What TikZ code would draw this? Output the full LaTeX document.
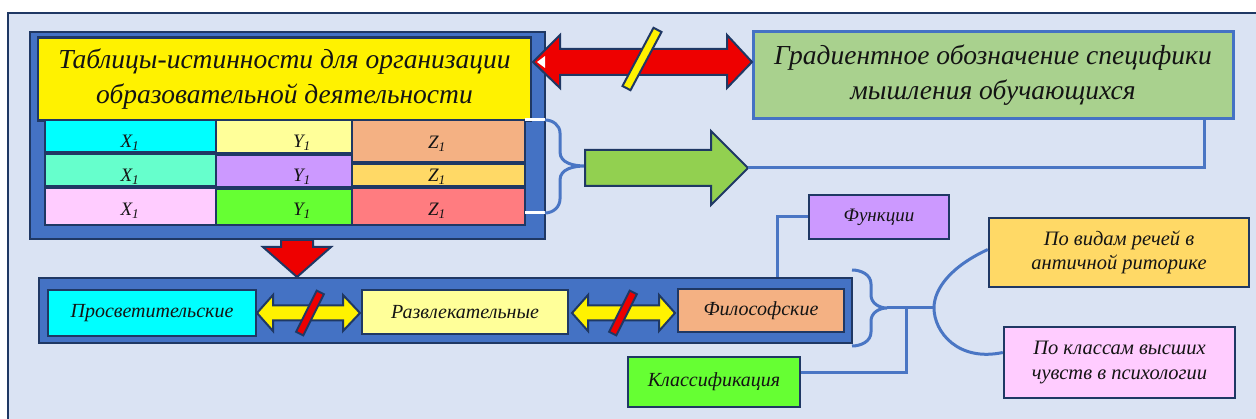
\documentclass[tikz,border=0pt]{standalone}
\usepackage{fontspec}
\setmainfont{Liberation Serif}[ItalicFont={Liberation Serif Italic}]
\newfontfamily\rit{Liberation Serif Italic}
\definecolor{navy}{HTML}{1F3864}
\definecolor{pblue}{HTML}{4472C4}
\definecolor{lblue}{HTML}{4A76C4}
\definecolor{bgc}{HTML}{DAE3F3}
\definecolor{cyanc}{HTML}{00FFFF}
\definecolor{aquac}{HTML}{66FFCC}
\definecolor{pinkc}{HTML}{FFCCFF}
\definecolor{lyel}{HTML}{FFFF99}
\definecolor{purc}{HTML}{CC99FF}
\definecolor{lgreen}{HTML}{66FF33}
\definecolor{tanc}{HTML}{F4B183}
\definecolor{goldc}{HTML}{FFD966}
\definecolor{salmc}{HTML}{FF7C80}
\definecolor{sage}{HTML}{A9D18E}
\definecolor{agreen}{HTML}{92D050}
\definecolor{redc}{HTML}{EE0000}
\definecolor{txt}{HTML}{141414}
\begin{document}
\begin{tikzpicture}[x=1pt,y=-1pt,
  box/.style={draw=navy,line width=2.4pt,inner sep=0pt,align=center,text=txt},
  panel/.style={draw=navy,line width=2.8pt,fill=pblue,inner sep=0pt},
  cell/.style={draw=navy,line width=2.2pt,inner sep=0pt},
  celltext/.style={inner sep=0pt,text=txt,font=\rit\fontsize{19}{21}\selectfont},
  conn/.style={draw=lblue,line width=3pt},
  shapeline/.style={draw=navy,line width=2pt,line join=miter},
  big/.style={font=\rit\fontsize{27.5}{35}\selectfont},
  mid/.style={font=\rit\fontsize{20}{24}\selectfont},
  sml/.style={font=\rit\fontsize{20.5}{24.5}\selectfont}]
\useasboundingbox (0,0) rectangle (1256,419);
\clip (0,0) rectangle (1256,419);
\fill[white] (0,0) rectangle (1256,419);
% outer frame
\draw[navy,line width=2.2pt,fill=bgc] (8,13) rectangle (1280,440);

% top-left panel
\node[panel,minimum width=515pt,minimum height=207pt] (ptop) at (287.5,135.5) {};
\node[box,big,fill=yellow,minimum width=493pt,minimum height=83pt] (title) at (284.5,79)
  {Таблицы-истинности для организации\\образовательной деятельности};

% table cells
\node[cell,fill=cyanc,minimum width=171pt,minimum height=32pt] (xa) at (130.5,136) {};
\node[cell,fill=aquac,minimum width=171pt,minimum height=32pt] (xb) at (130.5,170) {};
\node[cell,fill=pinkc,minimum width=171pt,minimum height=37pt] (xc) at (130.5,206.5) {};
\node[cell,fill=lyel,minimum width=136pt,minimum height=33pt] (ya) at (284,136.5) {};
\node[cell,fill=purc,minimum width=136pt,minimum height=32pt] (yb) at (284,171) {};
\node[cell,fill=lgreen,minimum width=136pt,minimum height=36pt] (yc) at (284,207) {};
\node[cell,fill=tanc,minimum width=173pt,minimum height=42pt] (za) at (438.5,141) {};
\node[cell,fill=goldc,minimum width=173pt,minimum height=22pt] (zb) at (438.5,175) {};
\node[cell,fill=salmc,minimum width=173pt,minimum height=37pt] (zc) at (438.5,206.5) {};
\node[celltext] (txa) at (130,143) {X\textsubscript{1}};
\node[celltext] (txb) at (130,177) {X\textsubscript{1}};
\node[celltext] (txc) at (130,211) {X\textsubscript{1}};
\node[celltext] (tya) at (302,143) {Y\textsubscript{1}};
\node[celltext] (tyb) at (302,177) {Y\textsubscript{1}};
\node[celltext] (tyc) at (302,211) {Y\textsubscript{1}};
\node[celltext] (tza) at (437,144) {Z\textsubscript{1}};
\node[celltext] (tzb) at (437,177) {Z\textsubscript{1}};
\node[celltext] (tzc) at (437,211) {Z\textsubscript{1}};

% brace 1
\draw[white,line width=3pt] (525,120) -- (545,120);
\draw[white,line width=3pt] (525,213) -- (545,213);
\coordinate (btip) at (585,166);
\draw[conn] (545,120) to[out=0,in=90] (560,133) -- (560,152) to[out=-90,in=180] (btip)
  to[out=180,in=90] (560,180) -- (560,199) to[out=-90,in=0] (545,213);

% green block arrow
\coordinate (gtip) at (748,168);
\draw[shapeline,fill=agreen] (585,150) -- (711,150) -- (711,131) -- (gtip) -- (711,205) -- (711,186) -- (585,186) -- cycle;

% top right green box
\node[box,big,draw=pblue,line width=3pt,fill=sage,minimum width=480pt,minimum height=87pt] (gr) at (993,75.5)
  {Градиентное обозначение специфики\\мышления обучающихся};
\draw[conn] (gtip) -| ([xshift=-30pt]gr.south east);

% red double arrow with slash
\draw[shapeline,fill=redc] (533,62) -- (560,35) -- (560,49) -- (727,49) -- (727,35) -- (752,62)
  -- (727,88) -- (727,75) -- (560,75) -- (560,88) -- cycle;
\fill[white] (537,62) -- (545,56) -- (545,68) -- cycle;
\draw[shapeline,fill=yellow] (622.5,86) -- (630.5,90.2) -- (661.5,32) -- (653.5,27.8) -- cycle;

% red down arrow
\draw[shapeline,fill=redc] (281,240) -- (313,240) -- (313,247) -- (331,247) -- (297,277) -- (263,247) -- (281,247) -- cycle;

% bottom panel
\node[panel,minimum width=813pt,minimum height=65pt] (pbot) at (445.5,310.5) {};
\node[box,mid,fill=cyanc,minimum width=208pt,minimum height=46pt] (pros) at (152,313) {Просветительские};
\node[box,mid,fill=lyel,minimum width=206pt,minimum height=44pt] (razv) at (465,312) {Развлекательные};
\node[box,mid,fill=tanc,minimum width=166pt,minimum height=43pt] (filo) at (761,310.5) {Философские};

% yellow double arrows
\draw[shapeline,fill=yellow] (257,313) -- (273,295) -- (273,305.5) -- (343,305.5) -- (343,295) -- (360,313)
  -- (343,331) -- (343,320.5) -- (273,320.5) -- (273,331) -- cycle;
\draw[shapeline,fill=yellow] (572,313) -- (588,295) -- (588,305.5) -- (659,305.5) -- (659,295) -- (675,313)
  -- (659,331) -- (659,320.5) -- (588,320.5) -- (588,331) -- cycle;
\draw[shapeline,fill=redc] (296.1,331.8) -- (303.3,335.4) -- (323.9,294.2) -- (316.7,290.6) -- cycle;
\draw[shapeline,fill=redc] (609.1,331.8) -- (616.3,335.4) -- (636.9,294.2) -- (629.7,290.6) -- cycle;

% right side
\node[box,font=\rit\fontsize{19}{23}\selectfont,fill=purc,minimum width=140pt,minimum height=44pt] (func) at (879,217) {Функции};
\draw[conn] (func.west) -| ([xshift=331.5pt]pbot.north);

\node[box,mid,fill=lgreen,minimum width=172pt,minimum height=50pt] (klass) at (714,382) {Классификация};
\node[box,sml,fill=goldc,minimum width=260pt,minimum height=69pt] (vid) at (1119,252.5)
  {По видам речей в\\античной риторике};
\node[box,sml,fill=pinkc,minimum width=231pt,minimum height=71pt] (kls) at (1119.5,362.5)
  {По классам высших\\чувств в психологии};

\coordinate (b2tip) at (887,308);
\coordinate (amid) at (934,308);
\draw[conn] (852,270) to[out=0,in=90] (871,284) -- (871,295) to[out=-90,in=180] (b2tip)
  to[out=180,in=90] (871,321) -- (871,332) to[out=-90,in=0] (852,346);
\draw[conn] (b2tip) -- (amid);
\draw[conn] ([yshift=9pt]klass.east) -| (906,308);
\draw[conn] ([yshift=3pt]vid.west) .. controls (952,266) and (934,288) .. (amid)
  .. controls (934,332) and (958,362) .. ([yshift=10pt]kls.west);
\end{tikzpicture}
\end{document}
